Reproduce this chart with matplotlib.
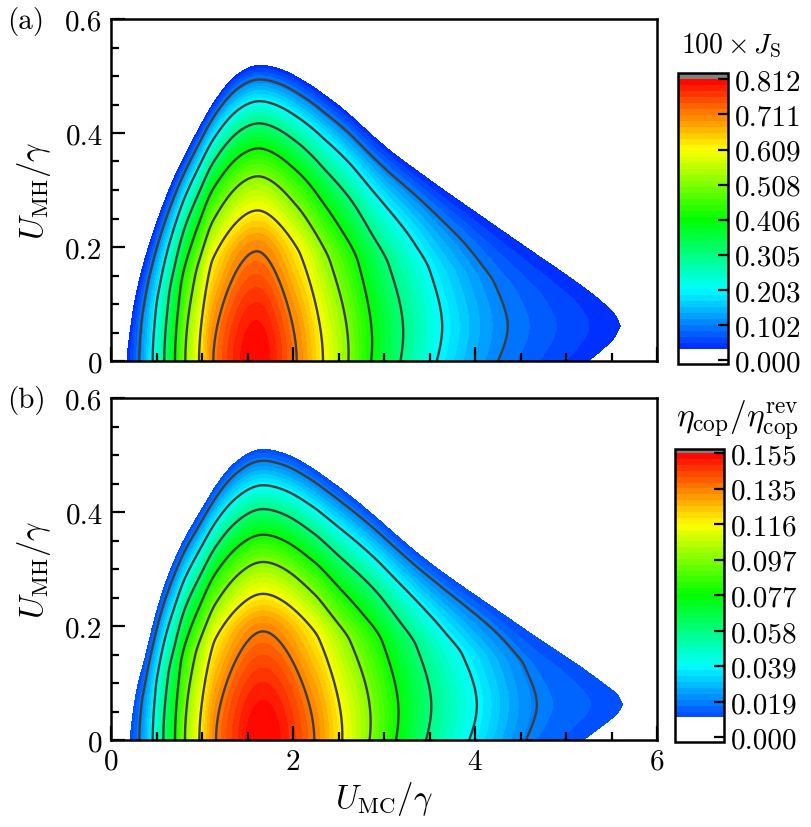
import numpy as np
import matplotlib
matplotlib.use("Agg")
import matplotlib.pyplot as plt
from matplotlib.colors import LinearSegmentedColormap

plt.rcParams.update({
    "font.family": "serif",
    "font.serif": ["cmr10"],
    "mathtext.fontset": "cm",
    "axes.unicode_minus": False,
    "axes.formatter.use_mathtext": True,
})

# ---------------- data ----------------
# contour levels are k * vmax / 8, k = 1..7 (same as the colorbar ticks)
# Panel (a): 100 x J_S
a_vmax = 0.8124
a_thr = 0.032          # below this the map is white
a_cb_lo = -0.0116
a_cb_hi = 0.831
a_ticklabels = ["0.000", "0.102", "0.203", "0.305", "0.406", "0.508", "0.609", "0.711", "0.812"]
# value along the ridge (x positions where the ridge crosses each level)
a_ridge_x = [0.05, 0.172, 0.311, 0.458, 0.586, 0.703, 0.817, 0.967, 1.125, 1.60,
             2.04, 2.33, 2.61, 2.87, 3.21, 3.64, 4.36, 5.60, 6.2]
a_ridge_v = [0.0, 0.032, 0.1015, 0.203, 0.305, 0.406, 0.508, 0.609, 0.711, 0.8124,
             0.711, 0.609, 0.508, 0.406, 0.305, 0.203, 0.1015, 0.032, 0.0]
# upper edge of the coloured region
a_top_x = [0.172, 0.20, 0.256, 0.33, 0.41, 0.557, 0.70, 0.85, 1.0, 1.14, 1.40, 1.62,
           1.85, 2.1, 2.5, 2.98, 3.40, 4.05, 4.60, 5.15, 5.42, 5.54, 5.60]
a_top_y = [0.0, 0.04, 0.10, 0.155, 0.20, 0.268, 0.325, 0.373, 0.418, 0.457, 0.505, 0.52,
           0.513, 0.493, 0.449, 0.380, 0.329, 0.256, 0.195, 0.134, 0.100, 0.080, 0.061]
# height of the ridge line
a_mid_x = [0.0, 2.3, 3.0, 3.6, 6.2]
a_mid_y = [0.0, 0.0, 0.04, 0.06, 0.062]
# apex heights of contours k = 7..1 and of the coloured edge
a_apex_h = [0.193, 0.265, 0.325, 0.374, 0.418, 0.457, 0.495, 0.52]
a_apex_w = 0.53

# Panel (b): eta_cop / eta_cop^rev
b_vmax = 0.1547
b_thr = 0.0109
b_cb_lo = -0.0025
b_cb_hi = 0.157
b_ticklabels = ["0.000", "0.019", "0.039", "0.058", "0.077", "0.097", "0.116", "0.135", "0.155"]
b_ridge_x = [0.08, 0.209, 0.311, 0.458, 0.575, 0.703, 0.813, 0.971, 1.154, 1.67,
             2.234, 2.542, 2.853, 3.16, 3.52, 4.02, 4.68, 5.62, 6.2]
b_ridge_v = [0.0, 0.0109, 0.01934, 0.03868, 0.05801, 0.07735, 0.09669, 0.11603,
             0.13536, 0.1547, 0.13536, 0.11603, 0.09669, 0.07735, 0.05801, 0.03868,
             0.01934, 0.0109, 0.0]
b_top_x = [0.209, 0.24, 0.30, 0.374, 0.48, 0.61, 0.78, 0.98, 1.16, 1.34, 1.656,
           1.90, 2.2, 2.6, 3.0, 3.41, 4.2, 4.79, 5.20, 5.45, 5.57, 5.62]
b_top_y = [0.0, 0.045, 0.100, 0.143, 0.215, 0.282, 0.345, 0.400, 0.448, 0.484, 0.511,
           0.503, 0.478, 0.432, 0.378, 0.322, 0.232, 0.168, 0.124, 0.094, 0.078, 0.0635]
b_mid_x = [0.0, 2.3, 3.0, 3.6, 6.2]
b_mid_y = [0.0, 0.0, 0.04, 0.06, 0.0635]
b_apex_h = [0.191, 0.257, 0.313, 0.361, 0.406, 0.448, 0.491, 0.511]
b_apex_w = 0.53

x_ticks = [0, 2, 4, 6]
y_ticks = [0, 0.2, 0.4, 0.6]
y_ticklabels = ["0", "0.2", "0.4", "0.6"]


def pchip(xk, yk, x):
    xk = np.asarray(xk, float)
    yk = np.asarray(yk, float)
    x = np.clip(np.asarray(x, float), xk[0], xk[-1])
    h = np.diff(xk)
    d = np.diff(yk) / h
    m = np.zeros_like(yk)
    for i in range(1, len(xk) - 1):
        if d[i - 1] * d[i] > 0:
            w1 = 2 * h[i] + h[i - 1]
            w2 = h[i] + 2 * h[i - 1]
            m[i] = (w1 + w2) / (w1 / d[i - 1] + w2 / d[i])
    m[0] = d[0]
    m[-1] = d[-1]
    idx = np.clip(np.searchsorted(xk, x) - 1, 0, len(h) - 1)
    t = (x - xk[idx]) / h[idx]
    h00 = 2 * t**3 - 3 * t**2 + 1
    h10 = t**3 - 2 * t**2 + t
    h01 = -2 * t**3 + 3 * t**2
    h11 = t**3 - t**2
    return (h00 * yk[idx] + h10 * h[idx] * m[idx] + h01 * yk[idx + 1]
            + h11 * h[idx] * m[idx + 1])


def smooth_masked(x, v, mask, sigma):
    dx = x[1] - x[0]
    n = int(4 * sigma / dx)
    k = np.exp(-0.5 * (np.arange(-n, n + 1) * dx / sigma) ** 2)
    num = np.convolve(np.where(mask, v, 0.0), k, mode="same")
    den = np.convolve(mask.astype(float), k, mode="same")
    return np.where(den > 1e-9, num / np.maximum(den, 1e-12), v)


def build_field(xg, yg, ridge_x, ridge_v, top_x, top_y, mid_x, mid_y,
                apex_h, apex_w, vmax, thr):
    fr = np.array([7, 6, 5, 4, 3, 2, 1]) / 8.0
    t_k = np.concatenate([[0.0], np.array(apex_h) / apex_w, [1.0]])
    s_k = np.concatenate([[1.0], fr, [thr / vmax], [0.0]])
    t_sym = np.concatenate([-t_k[:0:-1], t_k])
    s_sym = np.concatenate([s_k[:0:-1], s_k])

    def S(t):
        return np.where(t >= 1, 0.0, pchip(t_sym, s_sym, np.clip(t, 0, 1)))

    tt = np.linspace(0, 1, 4001)
    ss = S(tt)

    P = pchip(ridge_x, ridge_v, xg)
    Ym = pchip(mid_x, mid_y, xg)
    Yt = pchip(top_x, top_y, xg)
    ratio = np.clip(thr / np.maximum(P, 1e-9), 0, 1)
    tb = np.interp(ratio, ss[::-1], tt[::-1])
    valid = (P > thr) & (xg > top_x[0]) & (xg < top_x[-1])
    W = np.where(valid, (Yt - Ym) / np.maximum(tb, 1e-6), 1e-6)
    W = np.maximum(W, 1e-6)
    # light smoothing of the width, faded out towards both ends of the region
    Ws = smooth_masked(xg, W, valid, 0.07)
    wgt = (np.clip((xg - top_x[0] - 0.05) / 0.3, 0, 1)
           * np.clip((top_x[-1] - 0.05 - xg) / 0.3, 0, 1))
    W = np.where(valid, wgt * Ws + (1 - wgt) * W, W)
    X, Y = np.meshgrid(xg, yg)
    F = P[None, :] * S(np.abs(Y - Ym[None, :]) / W[None, :])
    return X, Y, F


cmap = LinearSegmentedColormap.from_list(
    "rb", [(0.0, (0, 0, 1)), (0.25, (0, 1, 1)), (0.5, (0, 1, 0)),
           (0.75, (1, 1, 0)), (1.0, (1, 0, 0))])

fig = plt.figure(figsize=(8.11, 8.28), dpi=100)
W_px, H_px = 811.0, 828.0


def fx(px):
    return px / W_px


def fy(py):
    return 1 - py / H_px


xg = np.linspace(0, 6, 1501)
yg = np.linspace(0, 0.6, 751)

panels = [
    dict(ridge_x=a_ridge_x, ridge_v=a_ridge_v, top_x=a_top_x, top_y=a_top_y,
         mid_x=a_mid_x, mid_y=a_mid_y, apex_h=a_apex_h, apex_w=a_apex_w,
         vmax=a_vmax, thr=a_thr, lo=a_cb_lo, hi=a_cb_hi, labels=a_ticklabels,
         ax_box=(111, 20, 657, 362), cb_box=(678, 74, 728, 365), tag="(a)",
         title=r"$100\times J_{\rm S}$", title_xy=(731, 46), title_fs=20),
    dict(ridge_x=b_ridge_x, ridge_v=b_ridge_v, top_x=b_top_x, top_y=b_top_y,
         mid_x=b_mid_x, mid_y=b_mid_y, apex_h=b_apex_h, apex_w=b_apex_w,
         vmax=b_vmax, thr=b_thr, lo=b_cb_lo, hi=b_cb_hi, labels=b_ticklabels,
         ax_box=(111, 399, 657, 741), cb_box=(675, 450, 724, 743), tag="(b)",
         title=r"$\eta_{\rm cop}/\eta_{\rm cop}^{\rm rev}$", title_xy=(738, 421),
         title_fs=24),
]

n_bands = 45
for i, p in enumerate(panels):
    l, t, r, b = p["ax_box"]
    ax = fig.add_axes([fx(l), fy(b), fx(r - l), (b - t) / H_px])
    X, Y, F = build_field(xg, yg, p["ridge_x"], p["ridge_v"], p["top_x"], p["top_y"],
                          p["mid_x"], p["mid_y"], p["apex_h"], p["apex_w"],
                          p["vmax"], p["thr"])
    inner = np.linspace(p["thr"], p["vmax"], n_bands + 1)
    levels = np.concatenate([[p["lo"]], inner, [p["hi"]]])
    mids = 0.5 * (inner[:-1] + inner[1:]) / p["vmax"]
    colors = ["white"] + [cmap(m) for m in mids] + [(0.5, 0.5, 0.5)]
    cf = ax.contourf(X, Y, F, levels=levels, colors=colors)
    clev = [p["vmax"] * k / 8 for k in range(1, 8)]
    ax.contour(X, Y, F, levels=clev, colors="#3d3d3d", linewidths=1.7)

    ax.set_xlim(0, 6)
    ax.set_ylim(0, 0.6)
    ax.set_xticks(x_ticks)
    ax.set_xticks(np.arange(0, 6.01, 0.5), minor=True)
    ax.set_yticks(y_ticks)
    ax.set_yticks(np.arange(0, 0.601, 0.05), minor=True)
    ax.set_yticklabels(y_ticklabels)
    ax.tick_params(which="both", direction="in", top=False, right=False,
                   labelsize=21, width=1.6)
    ax.tick_params(which="major", length=10, pad=6)
    ax.tick_params(which="minor", length=5.5)
    for s in ax.spines.values():
        s.set_linewidth(1.8)
    if i == 0:
        ax.set_xticklabels([])
    else:
        ax.set_xticklabels([str(v) for v in x_ticks])
        ax.set_xlabel(r"$U_{\rm MC}/\gamma$", fontsize=23.5, labelpad=3)
    ax.set_ylabel(r"$U_{\rm MH}/\gamma$", fontsize=23.5, labelpad=9)
    fig.text(fx(7), fy(t + 2), p["tag"], fontsize=21, ha="left", va="center")

    cl, ct, cr, cbm = p["cb_box"]
    cax = fig.add_axes([fx(cl), fy(cbm), fx(cr - cl), (cbm - ct) / H_px])
    ticks = [p["vmax"] * k / 8 for k in range(9)]
    cb = fig.colorbar(cf, cax=cax, spacing="proportional", ticks=ticks)
    cb.set_ticklabels(p["labels"])
    cb.minorticks_off()
    cb.outline.set_linewidth(1.8)
    cax.tick_params(direction="in", length=7, width=1.6, labelsize=21, pad=5)
    fig.text(fx(p["title_xy"][0]), fy(p["title_xy"][1]), p["title"],
             fontsize=p["title_fs"], ha="center", va="center")

fig.savefig("out.png", dpi=100)
